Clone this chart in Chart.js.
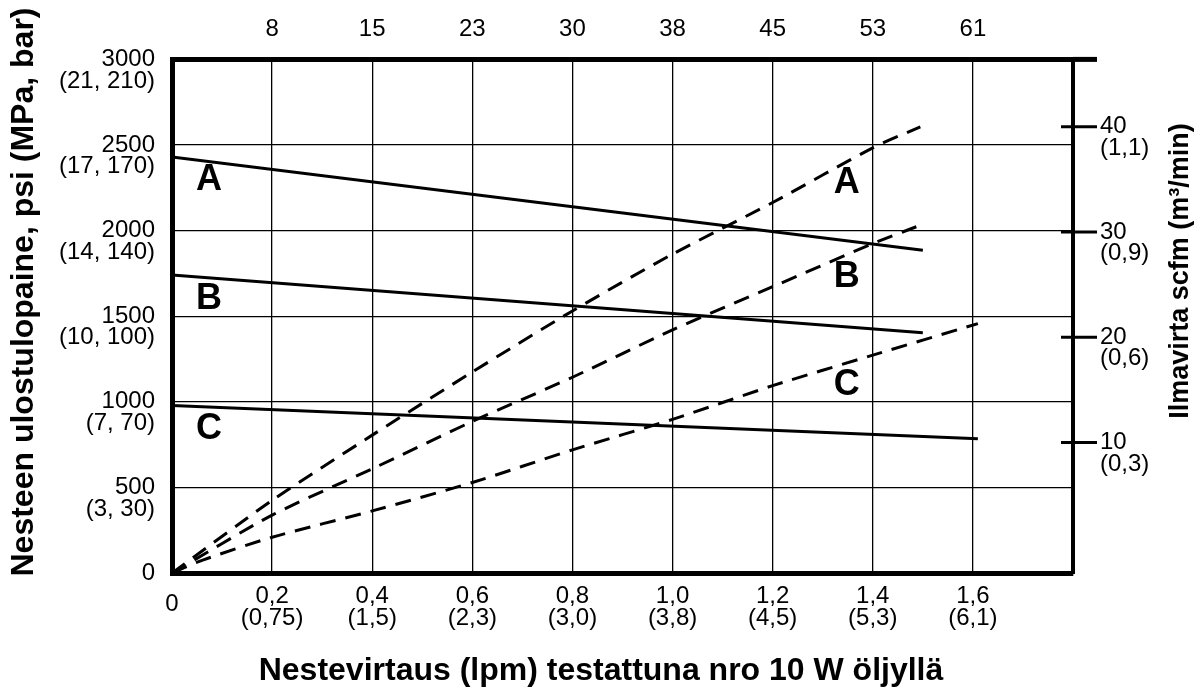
<!DOCTYPE html>
<html>
<head>
<meta charset="utf-8">
<title>Nestevirtaus</title>
<script src="https://cdn.jsdelivr.net/npm/chart.js@4/dist/chart.umd.min.js"></script>
<style>
  html, body { margin: 0; padding: 0; background: #fff; }
  #wrap { width: 1199px; height: 691px; }
</style>
</head>
<body>
<div id="wrap"><canvas id="myChart" width="1199" height="691"></canvas></div>
<script>
// bottom axis: flow
const flowTicks = [0, 0.2, 0.4, 0.6, 0.8, 1.0, 1.2, 1.4, 1.6];
const flowText = ['0', '0,2', '0,4', '0,6', '0,8', '1,0', '1,2', '1,4', '1,6'];
const flowLpmText = ['', '(0,75)', '(1,5)', '(2,3)', '(3,0)', '(3,8)', '(4,5)', '(5,3)', '(6,1)'];

// top axis
const topTicks = [0.2, 0.4, 0.6, 0.8, 1.0, 1.2, 1.4, 1.6];
const topText = ['8', '15', '23', '30', '38', '45', '53', '61'];

// left axis: outlet pressure
const psiTicks = [0, 500, 1000, 1500, 2000, 2500, 3000];
const psiText = ['0', '500', '1000', '1500', '2000', '2500', '3000'];
const psiMetricText = ['', '(3, 30)', '(7, 70)', '(10, 100)', '(14, 140)', '(17, 170)', '(21, 210)'];

// right axis: air flow
const scfmTicks = [10, 20, 30, 40];
const scfmText = ['10', '20', '30', '40'];
const m3Text = ['(0,3)', '(0,6)', '(0,9)', '(1,1)'];

// outlet pressure (psi) - solid lines
const pressFlowA = [0, 1.5];
const pressA = [2430, 1885];
const pressFlowB = [0, 1.5];
const pressB = [1740, 1403];
const pressFlowC = [0, 1.61];
const pressC = [978, 784];

// air consumption (scfm) - dashed lines
const airFlowA = [0, 0.2, 0.4, 0.6, 0.8, 1.0, 1.2, 1.4, 1.495];
const airA = [-2.4, 4.5, 10.7, 16.7, 22.5, 27.9, 32.8, 38.0, 40.0];
const airFlowB = [0, 0.2, 0.4, 0.6, 0.8, 1.0, 1.2, 1.4, 1.487];
const airB = [-2.4, 3.1, 7.5, 12.0, 16.2, 20.7, 24.8, 28.9, 30.5];
const airFlowC = [0, 0.06, 0.2, 0.4, 0.6, 0.8, 1.0, 1.2, 1.4, 1.61];
const airC = [-2.4, -1.2, 1.0, 3.5, 6.2, 9.3, 12.2, 15.4, 18.3, 21.3];

const curveNames = ['A', 'B', 'C'];

const FONT = '"Liberation Sans", Arial, Helvetica, sans-serif';
const tickFont = { family: FONT, size: 24, lineHeight: 0.9 };

function toPoints(xs, ys) {
  return xs.map((x, i) => ({ x: x, y: ys[i] }));
}

function solid(xs, ys) {
  return { data: toPoints(xs, ys), yAxisID: 'y', borderColor: '#000', borderWidth: 3,
           pointRadius: 0, tension: 0, fill: false };
}
function dashed(xs, ys) {
  return { data: toPoints(xs, ys), yAxisID: 'y2', borderColor: '#000', borderWidth: 3,
           borderDash: [16, 10], pointRadius: 0, tension: 0.25, fill: false };
}

// letters, titles and the cross ticks of the right axis
const decorations = {
  id: 'decorations',
  afterDraw(chart) {
    const { ctx, chartArea, scales } = chart;
    const y = scales.y, x = scales.x, y2 = scales.y2;
    ctx.save();
    ctx.strokeStyle = '#000';
    ctx.fillStyle = '#000';

    ctx.lineWidth = 3;
    y2.ticks.forEach(t => {
      const py = y2.getPixelForValue(t.value);
      ctx.beginPath();
      ctx.moveTo(chartArea.right - 12, py);
      ctx.lineTo(chartArea.right + 24, py);
      ctx.stroke();
    });
    ctx.lineWidth = 5;
    ctx.beginPath();
    ctx.moveTo(chartArea.right, chartArea.top);
    ctx.lineTo(chartArea.right + 24, chartArea.top);
    ctx.stroke();

    // curve letters, placed in chart units
    const leftPos = [2296, 1598, 842];
    const rightPos = [2279, 1731, 1096];
    ctx.font = 'bold 36px ' + FONT;
    ctx.textAlign = 'center';
    ctx.textBaseline = 'middle';
    curveNames.forEach((n, i) => {
      ctx.fillText(n, x.getPixelForValue(0.074), y.getPixelForValue(leftPos[i]));
      ctx.fillText(n, x.getPixelForValue(1.348), y.getPixelForValue(rightPos[i]));
    });

    // axis titles
    ctx.textBaseline = 'alphabetic';
    ctx.font = 'bold 32px ' + FONT;
    ctx.fillText('Nestevirtaus (lpm) testattuna nro 10 W öljyllä', 601, 680);

    ctx.save();
    ctx.translate(33, 292);
    ctx.rotate(-Math.PI / 2);
    ctx.fillText('Nesteen ulostulopaine, psi (MPa, bar)', 0, 0);
    ctx.restore();

    ctx.save();
    ctx.translate(1188, 271);
    ctx.rotate(-Math.PI / 2);
    ctx.font = 'bold 27px ' + FONT;
    ctx.fillText('Ilmavirta scfm (m³/min)', 0, 0);
    ctx.restore();

    ctx.restore();
  }
};

const config = {
  type: 'line',
  data: {
    datasets: [
      solid(pressFlowA, pressA),
      solid(pressFlowB, pressB),
      solid(pressFlowC, pressC),
      dashed(airFlowA, airA),
      dashed(airFlowB, airB),
      dashed(airFlowC, airC)
    ]
  },
  options: {
    responsive: false,
    animation: false,
    layout: { padding: 0 },
    plugins: { legend: { display: false }, tooltip: { enabled: false } },
    scales: {
      x: {
        type: 'linear', position: 'bottom', min: 0, max: 1.8,
        afterBuildTicks: s => { s.ticks = flowTicks.map(v => ({ value: v })); },
        afterFit: s => { s.height = 118; },
        grid: { color: '#000', lineWidth: 1.3, drawTicks: false },
        border: { color: '#000', width: 5 },
        ticks: {
          color: '#000', padding: 13, autoSkip: false, maxRotation: 0,
          // the lone "0" sits a little lower than the two-line labels
          font: c => c.index === 0 ? { family: FONT, size: 24, lineHeight: 1.55 } : tickFont,
          callback: (v, i) => i === 0 ? flowText[0] : [flowText[i], flowLpmText[i]]
        }
      },
      xTop: {
        type: 'linear', position: 'top', min: 0, max: 1.8,
        afterBuildTicks: s => { s.ticks = topTicks.map(v => ({ value: v })); },
        afterFit: s => { s.height = 53; },
        grid: { drawOnChartArea: false, drawTicks: false },
        border: { color: '#000', width: 5 },
        ticks: {
          color: '#000', font: tickFont, padding: 19, autoSkip: false, maxRotation: 0,
          callback: (v, i) => topText[i]
        }
      },
      y: {
        type: 'linear', position: 'left', min: 0, max: 3000,
        afterBuildTicks: s => { s.ticks = psiTicks.map(v => ({ value: v })); },
        afterFit: s => { s.width = 172; },
        grid: { color: '#000', lineWidth: 1.3, drawTicks: false },
        border: { color: '#000', width: 5 },
        ticks: {
          color: '#000', font: tickFont, padding: 17,
          callback: (v, i) => i === 0 ? psiText[0] : ['', psiText[i], psiMetricText[i]]
        }
      },
      y2: {
        type: 'linear', position: 'right', min: -2.4, max: 46.4,
        afterBuildTicks: s => { s.ticks = scfmTicks.map(v => ({ value: v })); },
        afterFit: s => { s.width = 126; },
        grid: { drawOnChartArea: false, drawTicks: false },
        border: { color: '#000', width: 4 },
        ticks: {
          color: '#000', font: tickFont, padding: 27,
          callback: (v, i) => ['', scfmText[i], m3Text[i]]
        }
      }
    }
  },
  plugins: [decorations]
};

const myChart = new Chart(document.getElementById('myChart'), config);
</script>
</body>
</html>
